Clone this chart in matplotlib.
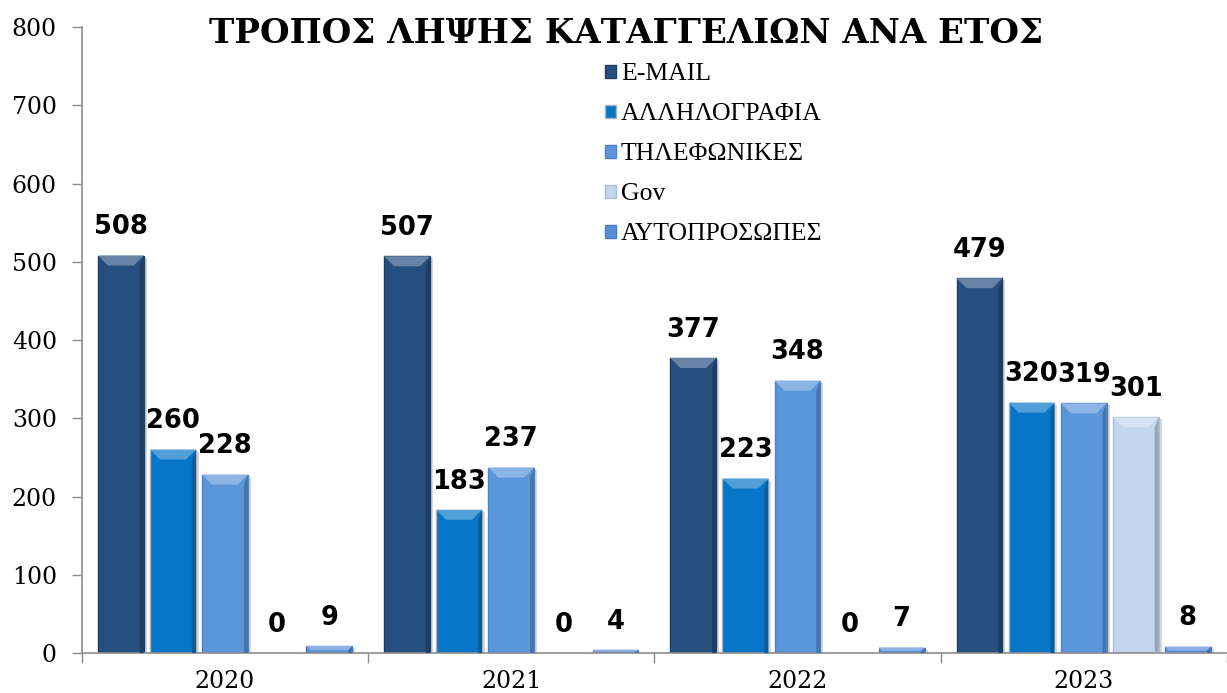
import matplotlib
matplotlib.use("Agg")
import matplotlib.pyplot as plt
import matplotlib.colors as mcolors
from matplotlib.patches import Polygon, Rectangle
import numpy as np

# ---- data -------------------------------------------------------------
years = ["2020", "2021", "2022", "2023"]
series = ["E-MAIL", "ΑΛΛΗΛΟΓΡΑΦΙΑ", "ΤΗΛΕΦΩΝΙΚΕΣ", "Gov", "ΑΥΤΟΠΡΟΣΩΠΕΣ"]
email = [508, 507, 377, 479]
mail = [260, 183, 223, 320]
phone = [228, 237, 348, 319]
gov = [0, 0, 0, 301]
in_person = [9, 4, 7, 8]
colors = ["#264f80", "#0775c8", "#5b95da", "#c2d6ee", "#5a8fd6"]
edges = ["#1e3e66", "#a8b2be", "#4f84c6", "#a9bdd6", "#4a7cc0"]

values = [email, mail, phone, gov, in_person]

# pixel -> data factors (axes is ~1145 px wide for 4 groups, ~626 px tall for 800)
PX_X = 4 / 1145
PX_Y = 800 / 626


def bevel(ax, bar, color):
    # light cap + darker right side, like the office "bevel" effect
    x0, y0 = bar.get_x(), bar.get_y()
    w, h = bar.get_width(), bar.get_height()
    if h <= 0:
        return
    bh = min(10 * PX_Y, h * 0.6)
    dx = 10 * PX_X * bh / (10 * PX_Y)
    sw = 4 * PX_X
    rgb = np.array(mcolors.to_rgb(color))
    light = rgb + (1 - rgb) * 0.3
    dark = rgb * 0.78
    top = y0 + h
    # soft shadow on the right
    ax.add_patch(Rectangle((x0 + w, y0), 3 * PX_X, h - 2 * PX_Y, fc="#d9d9d9",
                           ec="none", zorder=1))
    ax.add_patch(Polygon([[x0 + w, top], [x0 + w - sw, top - bh], [x0 + w - sw, y0], [x0 + w, y0]],
                         closed=True, fc=dark, ec="none", zorder=3))
    ax.add_patch(Polygon([[x0, top], [x0 + w, top], [x0 + w - dx, top - bh], [x0 + dx, top - bh]],
                         closed=True, fc=light, ec="none", zorder=3))


fig = plt.figure(figsize=(12.27, 6.93), dpi=100)
ax = fig.add_axes([0.0668, 0.0577, 0.933, 0.9033])

x = np.arange(len(years))
slot = 0.182
width = 0.16
handles = []
for i, (name, vals) in enumerate(zip(series, values)):
    pos = x + (i - 2) * slot
    bars = ax.bar(pos, vals, width, color=colors[i], edgecolor=edges[i],
                  linewidth=1.0, zorder=2, label=name)
    handles.append(bars)
    for b, v in zip(bars, vals):
        bevel(ax, b, colors[i])
        ax.annotate(str(v), (b.get_x() + b.get_width() / 2, v),
                    xytext=(0, 11), textcoords="offset points",
                    ha="center", va="bottom", fontsize=18.5, fontweight="bold",
                    family="DejaVu Sans", color="black", zorder=5)

ax.set_xlim(-0.5, len(years) - 0.5)
ax.set_ylim(0, 800)
ax.set_yticks(range(0, 801, 100))
ax.set_xticks(x)
ax.set_xticklabels(years)
ax.set_xticks(np.arange(len(years) + 1) - 0.5, minor=True)
ax.tick_params(axis="x", which="major", length=0, pad=12)
ax.tick_params(axis="x", which="minor", length=7, color="#8c8c8c", width=1)
ax.tick_params(axis="y", length=7, color="#8c8c8c", width=1, pad=11)
for lab in ax.get_xticklabels() + ax.get_yticklabels():
    lab.set_family("DejaVu Serif")
    lab.set_fontsize(17)
for s in ["top", "right"]:
    ax.spines[s].set_visible(False)
for s in ["left", "bottom"]:
    ax.spines[s].set_color("#8c8c8c")
    ax.spines[s].set_linewidth(1.2)

fig.text(0.51, 0.952, "ΤΡΟΠΟΣ ΛΗΨΗΣ ΚΑΤΑΓΓΕΛΙΩΝ ΑΝΑ ΕΤΟΣ", ha="center", va="center",
         fontsize=24.5, fontweight="bold", family="DejaVu Serif")

fig.legend(handles=handles, labels=series, loc="upper left",
           bbox_to_anchor=(0.4825, 0.927), frameon=False,
           prop={"family": "Liberation Serif", "size": 18.5},
           handlelength=0.42, handleheight=0.42, handletextpad=0.2,
           labelspacing=0.7, borderpad=0)

plt.savefig("out.png", dpi=100)
